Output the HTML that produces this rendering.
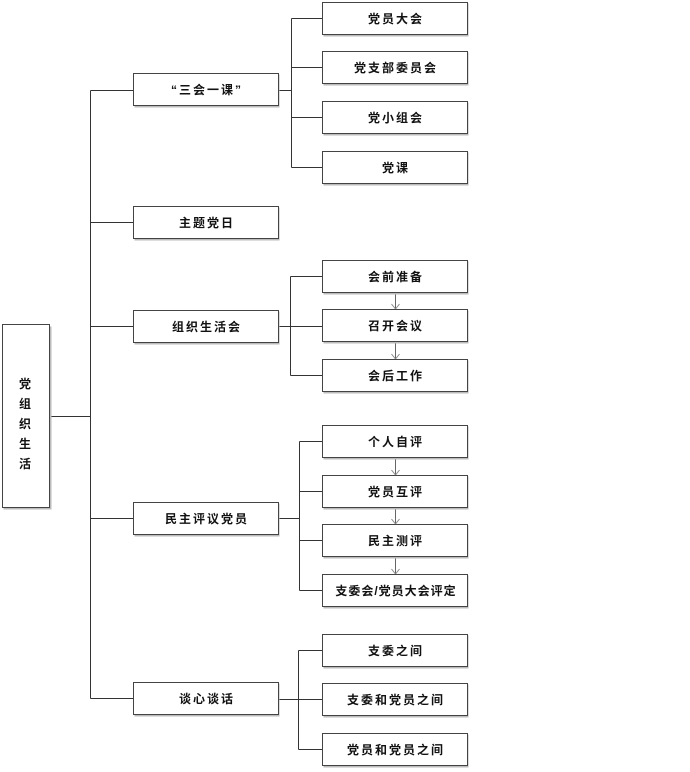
<!DOCTYPE html>
<html><head><meta charset="utf-8"><style>
html,body{margin:0;padding:0;background:#fff;width:690px;height:772px;overflow:hidden}
text{font-family:"Liberation Sans","Noto Sans CJK SC","WenQuanYi Zen Hei",sans-serif;font-size:12px;font-weight:bold;fill:#111;letter-spacing:2px}
.sh{fill:#bbb}
.bx{fill:#fff;stroke:#444;stroke-width:1}
</style></head><body>
<svg width="690" height="772" viewBox="0 0 690 772" xmlns="http://www.w3.org/2000/svg">
<g stroke="#333" stroke-width="1" fill="none">
<path d="M50.5,416.5H90.5M90.5,90.5V698.5M90.5,90.5H133M90.5,222.5H133M90.5,326.5H133M90.5,518.5H133M90.5,698.5H133"/>
<path d="M279,90.5H291.5M291.5,18.5V167.5M291.5,18.5H322M291.5,67.5H322M291.5,117.5H322M291.5,167.5H322"/>
<path d="M279,326.5H322M290.5,276.5V375.5M290.5,276.5H322M290.5,375.5H322"/>
<path d="M279,518.5H299.5M299.5,441.5V590.5M299.5,441.5H322M299.5,491.5H322M299.5,540.5H322M299.5,590.5H322"/>
<path d="M279,699.5H322M298.5,650.5V749.5M298.5,650.5H322M298.5,749.5H322"/>
<path d="M395.5,293V309M395.5,342V359M395.5,458V475M395.5,508V524M395.5,557V574" stroke="#666"/>
<path d="M391.5,304L395.5,309L399.5,304M391.5,354L395.5,359L399.5,354M391.5,470L395.5,475L399.5,470M391.5,519L395.5,524L399.5,519M391.5,569L395.5,574L399.5,569" stroke="#888"/>
</g>
<rect x="3.5" y="326.5" width="48" height="183" class="sh"/>
<rect x="2.5" y="324.5" width="47" height="183" class="bx"/>
<text x="26" y="388" text-anchor="middle">党</text>
<text x="26" y="408" text-anchor="middle">组</text>
<text x="26" y="428" text-anchor="middle">织</text>
<text x="26" y="448" text-anchor="middle">生</text>
<text x="26" y="468" text-anchor="middle">活</text>

<rect x="134.5" y="74.5" width="145" height="33" class="sh"/><rect x="133.5" y="73.5" width="145" height="32" class="bx"/><text x="207" y="94" text-anchor="middle">“三会一课”</text>
<rect x="134.5" y="207.5" width="145" height="33" class="sh"/><rect x="133.5" y="206.5" width="145" height="32" class="bx"/><text x="207" y="227" text-anchor="middle">主题党日</text>
<rect x="134.5" y="311.5" width="145" height="33" class="sh"/><rect x="133.5" y="310.5" width="145" height="32" class="bx"/><text x="207" y="331" text-anchor="middle">组织生活会</text>
<rect x="134.5" y="503.5" width="145" height="33" class="sh"/><rect x="133.5" y="502.5" width="145" height="32" class="bx"/><text x="207" y="523" text-anchor="middle">民主评议党员</text>
<rect x="134.5" y="683.5" width="145" height="33" class="sh"/><rect x="133.5" y="682.5" width="145" height="32" class="bx"/><text x="207" y="703" text-anchor="middle">谈心谈话</text>

<rect x="323.5" y="3.5" width="145" height="33" class="sh"/><rect x="322.5" y="2.5" width="145" height="32" class="bx"/><text x="396" y="23" text-anchor="middle">党员大会</text>
<rect x="323.5" y="52.5" width="145" height="33" class="sh"/><rect x="322.5" y="51.5" width="145" height="32" class="bx"/><text x="396" y="72" text-anchor="middle">党支部委员会</text>
<rect x="323.5" y="102.5" width="145" height="33" class="sh"/><rect x="322.5" y="101.5" width="145" height="32" class="bx"/><text x="396" y="122" text-anchor="middle">党小组会</text>
<rect x="323.5" y="152.5" width="145" height="33" class="sh"/><rect x="322.5" y="151.5" width="145" height="32" class="bx"/><text x="396" y="172" text-anchor="middle">党课</text>

<rect x="323.5" y="261.5" width="145" height="33" class="sh"/><rect x="322.5" y="260.5" width="145" height="32" class="bx"/><text x="396" y="281" text-anchor="middle">会前准备</text>
<rect x="323.5" y="310.5" width="145" height="33" class="sh"/><rect x="322.5" y="309.5" width="145" height="32" class="bx"/><text x="396" y="330" text-anchor="middle">召开会议</text>
<rect x="323.5" y="360.5" width="145" height="33" class="sh"/><rect x="322.5" y="359.5" width="145" height="32" class="bx"/><text x="396" y="380" text-anchor="middle">会后工作</text>

<rect x="323.5" y="426.5" width="145" height="33" class="sh"/><rect x="322.5" y="425.5" width="145" height="32" class="bx"/><text x="396" y="446" text-anchor="middle">个人自评</text>
<rect x="323.5" y="476.5" width="145" height="33" class="sh"/><rect x="322.5" y="475.5" width="145" height="32" class="bx"/><text x="396" y="496" text-anchor="middle">党员互评</text>
<rect x="323.5" y="525.5" width="145" height="33" class="sh"/><rect x="322.5" y="524.5" width="145" height="32" class="bx"/><text x="396" y="545" text-anchor="middle">民主测评</text>
<rect x="323.5" y="575.5" width="145" height="33" class="sh"/><rect x="322.5" y="574.5" width="145" height="32" class="bx"/><text x="396" y="595" text-anchor="middle" style="letter-spacing:1px">支委会/党员大会评定</text>

<rect x="323.5" y="635.5" width="145" height="33" class="sh"/><rect x="322.5" y="634.5" width="145" height="32" class="bx"/><text x="396" y="655" text-anchor="middle">支委之间</text>
<rect x="323.5" y="684.5" width="145" height="33" class="sh"/><rect x="322.5" y="683.5" width="145" height="32" class="bx"/><text x="396" y="704" text-anchor="middle">支委和党员之间</text>
<rect x="323.5" y="734.5" width="145" height="33" class="sh"/><rect x="322.5" y="733.5" width="145" height="32" class="bx"/><text x="396" y="754" text-anchor="middle">党员和党员之间</text>
</svg>
</body></html>
